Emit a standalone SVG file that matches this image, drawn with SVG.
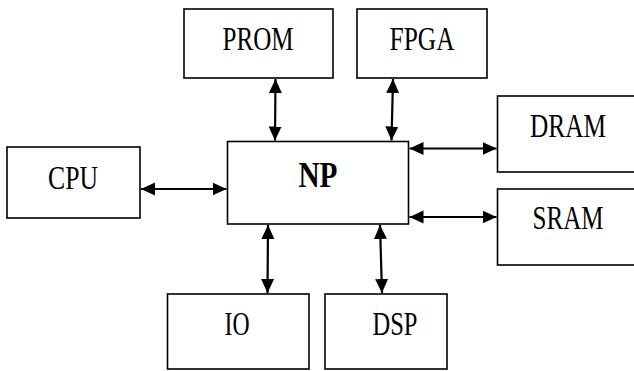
<svg xmlns="http://www.w3.org/2000/svg" width="634" height="371" viewBox="0 0 634 371">
<style>
.box{fill:#fff;stroke:#000;stroke-width:1.6}
.lbl{font-family:"Liberation Serif","Times New Roman",serif;font-size:33px;fill:#000;text-anchor:middle}
.bold{font-weight:bold;font-size:36px}
.con{stroke:#000;stroke-width:2.2;fill:none;marker-start:url(#ah);marker-end:url(#ah)}
</style>
<defs>
<marker id="ah" markerUnits="userSpaceOnUse" markerWidth="14" markerHeight="14" refX="14" refY="7" orient="auto-start-reverse">
<path d="M0,0.5 L14,7 L0,13.5 z" fill="#000"/>
</marker>
</defs>
<rect width="634" height="371" fill="#fff"/>
<g id="PROM"><rect class="box" x="184" y="9" width="149" height="69"/><text class="lbl" x="258" y="50" textLength="71" lengthAdjust="spacingAndGlyphs">PROM</text></g>
<g id="FPGA"><rect class="box" x="357" y="9" width="130" height="69"/><text class="lbl" x="422" y="50" textLength="65" lengthAdjust="spacingAndGlyphs">FPGA</text></g>
<g id="CPU"><rect class="box" x="7" y="147" width="133" height="71"/><text class="lbl" x="73" y="189" textLength="50" lengthAdjust="spacingAndGlyphs">CPU</text></g>
<g id="NP"><rect class="box" x="227.5" y="141.5" width="181" height="82.5"/><text class="lbl bold" x="318" y="187" textLength="39" lengthAdjust="spacingAndGlyphs">NP</text></g>
<g id="DRAM"><rect class="box" x="497.5" y="96" width="150" height="76"/><text class="lbl" x="568" y="137" textLength="76" lengthAdjust="spacingAndGlyphs">DRAM</text></g>
<g id="SRAM"><rect class="box" x="497.5" y="189" width="150" height="76"/><text class="lbl" x="568" y="229" textLength="71" lengthAdjust="spacingAndGlyphs">SRAM</text></g>
<g id="IO"><rect class="box" x="167.5" y="294" width="141.5" height="75"/><text class="lbl" x="237" y="335" textLength="25" lengthAdjust="spacingAndGlyphs">IO</text></g>
<g id="DSP"><rect class="box" x="325" y="294" width="122" height="75"/><text class="lbl" x="395" y="335" textLength="45" lengthAdjust="spacingAndGlyphs">DSP</text></g>
<g id="connectors">
<line class="con" x1="275.5" y1="79" x2="275" y2="140.5"/>
<line class="con" x1="393" y1="79" x2="391.5" y2="140.5"/>
<line class="con" x1="141" y1="189" x2="226.5" y2="189"/>
<line class="con" x1="409.5" y1="148.5" x2="496.5" y2="148.5"/>
<line class="con" x1="409.5" y1="217" x2="496.5" y2="217"/>
<line class="con" x1="268" y1="225" x2="267.5" y2="293"/>
<line class="con" x1="380" y1="225" x2="382" y2="293"/>
</g>
</svg>
